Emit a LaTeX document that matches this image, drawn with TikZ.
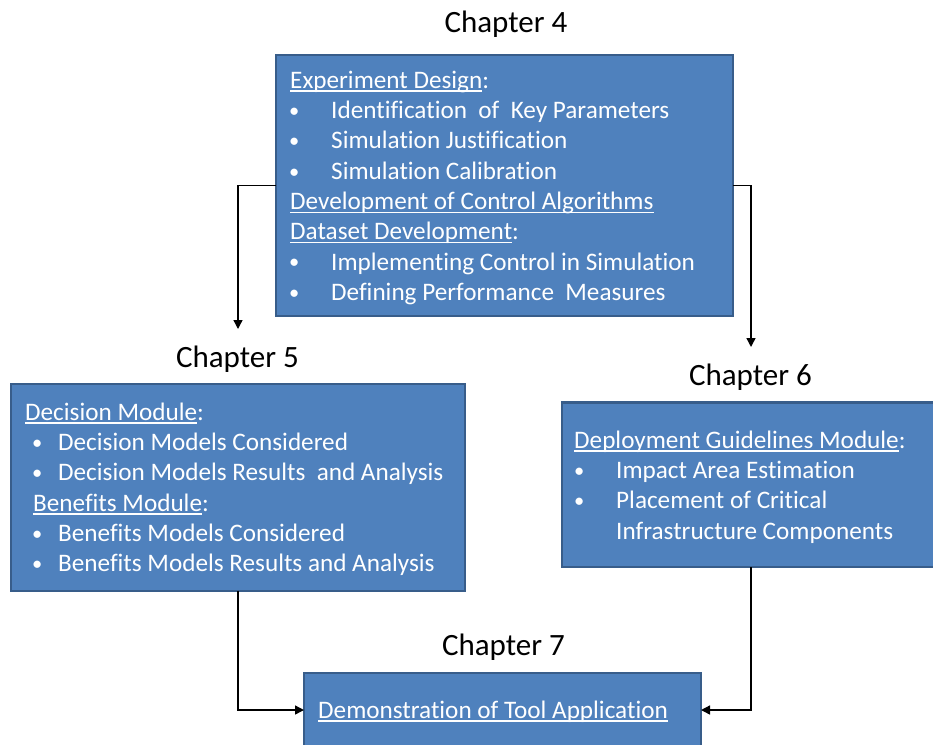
\documentclass[tikz,border=0pt]{standalone}
\usepackage{fontspec}
\setmainfont{Carlito}[Ligatures=NoCommon]
\usetikzlibrary{arrows.meta}
\definecolor{boxfill}{HTML}{4F81BD}
\definecolor{boxline}{HTML}{385D8A}
% underline at a fixed depth below the baseline
\newcommand\ulx[1]{\leavevmode\setbox0\hbox{#1}\rlap{\rule[-3.4pt]{\wd0}{1.2pt}}\box0}
% bullet item: indent before bullet, bullet box width, item text
\newcommand\bl[3]{\hspace*{#1pt}\makebox[#2pt][l]{\raisebox{1.1pt}{\fontsize{20.5}{20.5}\selectfont•}}#3}

\begin{document}
\begin{tikzpicture}[x=1pt,y=-1pt,
  box/.style={draw=boxline, line width=2.8pt, fill=boxfill, anchor=north west,
    inner sep=0pt, outer sep=0pt},
  body/.style={anchor=north west, inner sep=0pt, align=left, text=white,
    font=\fontsize{25.2}{30.3}\selectfont},
  title/.style={anchor=base, inner sep=0pt, font=\fontsize{31}{36}\selectfont},
  conn/.style={line width=1.4pt, -{Triangle[length=9pt,width=9pt]}}]

\useasboundingbox (0,0) rectangle (933,744);
\clip (0,0) rectangle (933,744);

% chapter boxes
\node[box, minimum width=457pt, minimum height=261pt] (c4) at (276,55) {};
\node[box, minimum width=454pt, minimum height=207pt] (c5) at (11,384) {};
\node[box, minimum width=378pt, minimum height=164.5pt] (c6) at (562,402.5) {};
\node[box, minimum width=397pt, minimum height=74pt] (c7) at (304,673) {};

% chapter titles
\node[title] (t4) at (506,32) {Chapter 4};
\node[title] (t5) at (237.5,367) {Chapter 5};
\node[title] (t6) at (750.5,385) {Chapter 6};
\node[title] (t7) at (503.5,655) {Chapter 7};

% box contents
\node[body] (b4) at (290,66.8) {%
  \strut\ulx{Experiment Design}:\\
  \strut\bl{-1}{42}{Identification\ \ of\ \ Key Parameters}\\
  \strut\bl{-1}{42}{Simulation Justification}\\
  \strut\bl{-1}{42}{Simulation Calibration}\\
  \strut\ulx{Development of Control Algorithms}\\
  \strut\ulx{Dataset Development}:\\
  \strut\bl{-1}{42}{Implementing Control in Simulation}\\
  \strut\bl{-1}{42}{Defining Performance\ \ Measures}};

\node[body] (b5) at (25,398.8) {%
  \strut\ulx{Decision Module}:\\
  \strut\bl{7}{26}{Decision Models Considered}\\
  \strut\bl{7}{26}{Decision Models Results\ \ and Analysis}\\
  \strut\hspace*{8pt}\ulx{Benefits Module}:\\
  \strut\bl{7}{26}{Benefits Models Considered}\\
  \strut\bl{7}{26}{Benefits Models Results and Analysis}};

\node[body] (b6) at (574,426.8) {%
  \strut\ulx{Deployment Guidelines Module}:\\
  \strut\bl{0}{42}{Impact Area Estimation}\\
  \strut\bl{0}{42}{Placement of Critical}\\
  \strut\hspace*{42pt}Infrastructure Components};

\node[body] (b7) at (318,696.8) {\strut\ulx{Demonstration of Tool Application}};

% connectors
\coordinate (tip5) at (238,329);
\coordinate (tip6) at (751,347);
\draw[conn] (c4.west) -| (tip5);
\draw[conn] (c4.east) -| (tip6);
\draw[conn] (c5.south) |- (c7.west);
\draw[conn] (c6.south) |- (c7.east);
\end{tikzpicture}
\end{document}
